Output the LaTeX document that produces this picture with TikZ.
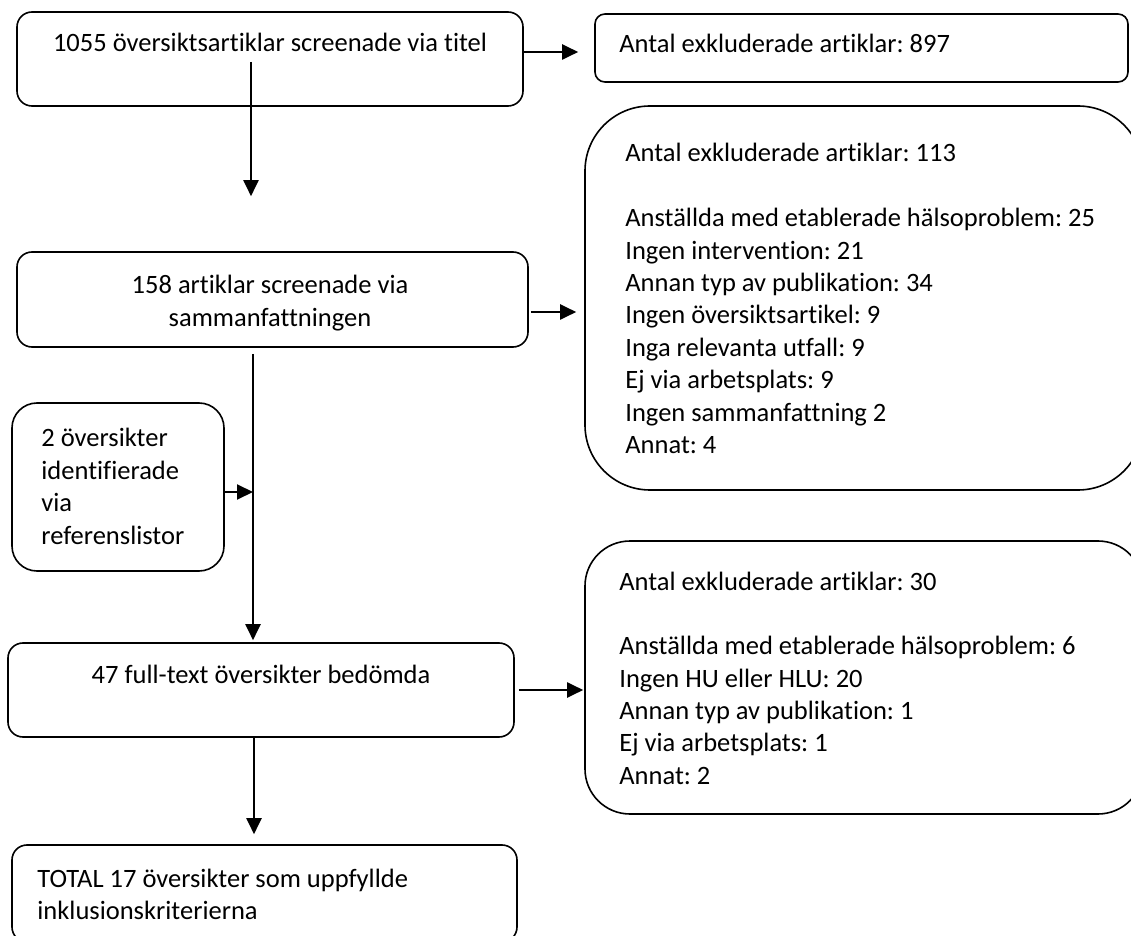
\documentclass[tikz,border=0pt]{standalone}
\usepackage{fontspec}
\setmainfont{Carlito}[Ligatures=NoCommon]
\usetikzlibrary{arrows.meta,fit}
\frenchspacing

\newcommand{\rader}[2][l]{\begin{tabular}[t]{@{}#1@{}}#2\end{tabular}}

\tikzset{
  ruta/.style={draw, line width=0.8pt, inner sep=0pt},
  txt/.style={inner sep=0pt, font=\fontsize{13.25}{16.2}\selectfont},
  pil/.style={-{Triangle[length=8pt,width=7.5pt]}, line width=1pt}
}

\begin{document}
\begin{tikzpicture}[x=0.5pt, y=-0.5pt]
  \useasboundingbox (0,0) rectangle (1131,936);

  % rutor
  \node[ruta, rounded corners=7.5pt, fit={(17,12) (523,106)}] (titel) {};
  \node[ruta, rounded corners=5pt, fit={(595,14) (1128,82)}] (excl1) {};
  \node[ruta, rounded corners=7.5pt, fit={(17,252) (528,347)}] (abstrakt) {};
  \node[ruta, rounded corners=32.5pt, fit={(585,106) (1143,490)}] (excl2) {};
  \node[ruta, rounded corners=12.5pt, fit={(12,403) (224,571)}] (ref) {};
  \node[ruta, rounded corners=7.5pt, fit={(8,643) (514,737)}] (fulltext) {};
  \node[ruta, rounded corners=22.5pt, fit={(585,541) (1143,814)}] (excl3) {};
  \node[ruta, rounded corners=7.5pt, fit={(12,845) (517,942)}] (total) {};

  % texter
  \node[txt, anchor=base] (titel-t) at (270,52) {1055 översiktsartiklar screenade via titel};
  \node[txt, anchor=base west] (excl1-t) at (619,53) {Antal exkluderade artiklar: 897};
  \node[txt, anchor=base] (abstrakt-t) at (270,294) {\rader[c]{158 artiklar screenade via\\sammanfattningen}};
  \node[txt, anchor=base west] (excl2-t) at (625,162) {\rader{Antal exkluderade artiklar: 113\\ \\
    Anställda med etablerade hälsoproblem: 25\\
    Ingen intervention: 21\\
    Annan typ av publikation: 34\\
    Ingen översiktsartikel: 9\\
    Inga relevanta utfall: 9\\
    Ej via arbetsplats: 9\\
    Ingen sammanfattning 2\\
    Annat: 4}};
  \node[txt, anchor=base west] (ref-t) at (41,447) {\rader{2 översikter\\identifierade\\via\\referenslistor}};
  \node[txt, anchor=base] (fulltext-t) at (261,683) {47 full-text översikter bedömda};
  \node[txt, anchor=base west] (excl3-t) at (619,590) {\rader{Antal exkluderade artiklar: 30\\ \\
    Anställda med etablerade hälsoproblem: 6\\
    Ingen HU eller HLU: 20\\
    Annan typ av publikation: 1\\
    Ej via arbetsplats: 1\\
    Annat: 2}};
  \node[txt, anchor=base west] (total-t) at (37,887) {\rader{TOTAL 17 översikter som uppfyllde\\inklusionskriterierna}};

  % pilar
  \coordinate (join) at (253,492);
  \draw[pil, shorten >=8pt] (titel.east |- 0,52) -- (excl1.west |- 0,52);
  \draw[pil, shorten <=-22.5pt, shorten >=27.5pt] (titel.south -| 251,0) -- (abstrakt.north -| 251,0);
  \draw[pil, shorten <=1pt, shorten >=4pt] (abstrakt.east |- 0,312) -- (excl2.west |- 0,312);
  \draw[line width=1pt, shorten <=3pt] (abstrakt.south -| join) -- (join);
  \draw[pil, shorten >=1pt] (join) -- (fulltext.north -| join);
  \draw[pil] (ref.east |- join) -- (join);
  \draw[pil, shorten <=2pt, shorten >=0.5pt] (fulltext.east |- 0,690) -- (excl3.west |- 0,690);
  \draw[pil, shorten >=5pt] (fulltext.south -| 254,0) -- (total.north -| 254,0);
\end{tikzpicture}
\end{document}
